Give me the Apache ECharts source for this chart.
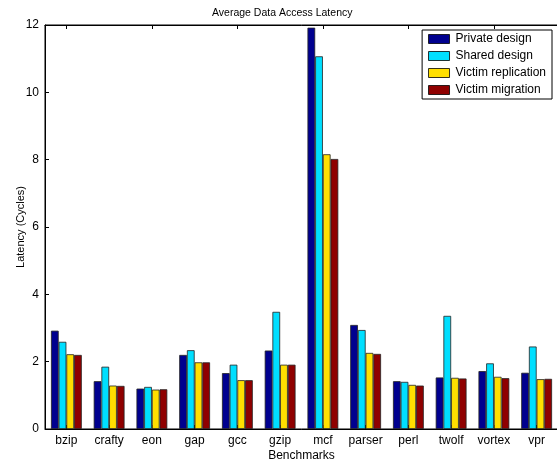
<!DOCTYPE html>
<html><head><meta charset="utf-8">
<script src="https://cdn.jsdelivr.net/npm/echarts@6/dist/echarts.min.js"></script>
<style>html,body{margin:0;padding:0;background:#fff}#c{width:557px;height:465px}</style>
</head><body><div id="c"></div>
<script>
const categories = ['bzip','crafty','eon','gap','gcc','gzip','mcf','parser','perl','twolf','vortex','vpr'];
const privateDesign = [2.92,1.42,1.20,2.20,1.66,2.33,11.92,3.09,1.42,1.53,1.72,1.67];
const sharedDesign = [2.59,1.85,1.25,2.34,1.91,3.48,11.07,2.94,1.40,3.36,1.95,2.45];
const victimReplication = [2.22,1.29,1.17,1.98,1.45,1.91,8.16,2.26,1.31,1.52,1.55,1.48];
const victimMigration = [2.20,1.28,1.18,1.98,1.45,1.91,8.02,2.23,1.29,1.50,1.51,1.49];
const yTicks = [0,2,4,6,8,10,12];
const seriesNames = ['Private design','Shared design','Victim replication','Victim migration'];
const colors = ['#00008F','#00DFFF','#FFDF00','#8F0000'];
const font = 'Liberation Sans, Arial, Helvetica, sans-serif';
const chart = echarts.init(document.getElementById('c'));
const data = [privateDesign, sharedDesign, victimReplication, victimMigration];
chart.setOption({
  animation:false,
  color: colors,
  title:{text:'Average Data Access Latency', left:207, top:3,
    textStyle:{fontFamily:font,fontSize:10.5,fontWeight:'normal',color:'#000'}},
  legend:{orient:'vertical', right:5, top:30, itemWidth:21, itemHeight:9, itemGap:5, icon:'rect',
    padding:[3,6,3,6], borderColor:'#000', borderWidth:1, backgroundColor:'#fff',
    textStyle:{fontFamily:font,fontSize:12,color:'#000', padding:[0,0,0,1]},
    data: seriesNames.map(n=>({name:n, itemStyle:{borderColor:'#000',borderWidth:0.8}}))},
  grid:{left:45, top:25, width:513, bottom:36, containLabel:false, outerBoundsMode:'none',
    show:true, borderColor:'#000', borderWidth:1, backgroundColor:'transparent'},
  xAxis:[{type:'category', data:categories, name:'Benchmarks', nameLocation:'middle', nameGap:21, nameMoveOverlap:false,
    nameTextStyle:{fontFamily:font,fontSize:12,color:'#000'},
    axisLine:{lineStyle:{color:'#000'}}, axisTick:{show:true, alignWithLabel:true, inside:true, length:4, lineStyle:{color:'#000'}},
    axisLabel:{fontFamily:font,fontSize:12,color:'#000', margin:6, interval:0, hideOverlap:false}},
    {type:'category', data:categories, position:'top', axisLine:{lineStyle:{color:'#000'}},
    axisTick:{show:true, alignWithLabel:true, inside:true, length:4, lineStyle:{color:'#000'}}, axisLabel:{show:false}}],
  yAxis:{type:'value', min:0, max:12, interval:2, name:'Latency (Cycles)', nameLocation:'middle', nameGap:19, nameMoveOverlap:false,
    nameTextStyle:{fontFamily:font,fontSize:11,color:'#000'},
    axisLine:{show:true,lineStyle:{color:'#000'}}, axisTick:{show:true, inside:true, length:4, lineStyle:{color:'#000'}},
    splitLine:{show:false},
    axisLabel:{fontFamily:font,fontSize:12,color:'#000', margin:6, formatter:v=>yTicks.includes(v)?String(v):''}},
  series: seriesNames.map((n,i)=>({name:n, type:'bar', data:data[i], barWidth:7.7, barGap:'0%',
    itemStyle:{color:colors[i], borderColor:'#222', borderWidth:0.8}}))
});
</script></body></html>
